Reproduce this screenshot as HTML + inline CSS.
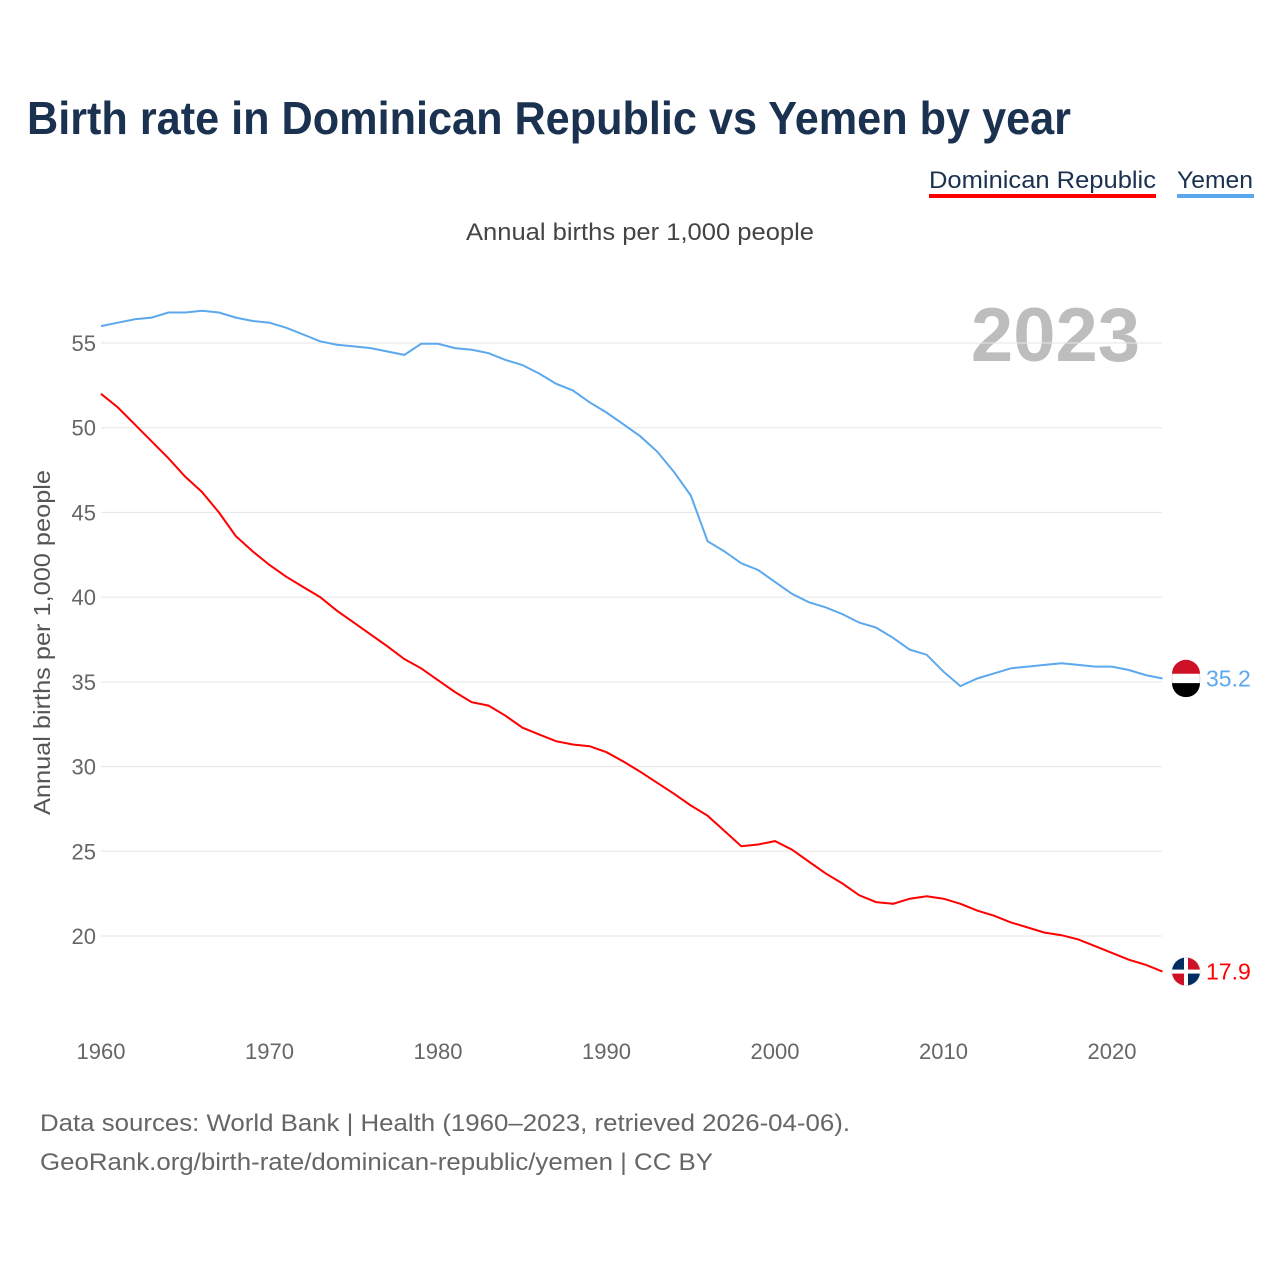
<!DOCTYPE html>
<html><head><meta charset="utf-8">
<style>
body{margin:0;background:#fff;font-family:"Liberation Sans",sans-serif;}
svg{display:block}
</style></head>
<body>
<svg id="chart" width="1280" height="1280" viewBox="0 0 1280 1280">
<text x="27" y="134" font-size="46" font-weight="bold" fill="#1a3150" textLength="1044" lengthAdjust="spacingAndGlyphs">Birth rate in Dominican Republic vs Yemen by year</text>
<g>
<text x="929" y="188" font-size="24" fill="#1a3150" textLength="227" lengthAdjust="spacingAndGlyphs">Dominican Republic</text>
<rect x="929" y="194" width="227" height="4" fill="#ff0000"/></g>
<g>
<text x="1177" y="188" font-size="24" fill="#1a3150" textLength="76" lengthAdjust="spacingAndGlyphs">Yemen</text>
<rect x="1177" y="194" width="77" height="4" fill="#5ba8ee"/></g>
<text x="466" y="240" font-size="24" fill="#444" textLength="348" lengthAdjust="spacingAndGlyphs">Annual births per 1,000 people</text>
<text x="1140" y="361" font-size="76" font-weight="bold" fill="#bdbdbd" text-anchor="end">2023</text>
<text transform="translate(50,815) rotate(-90)" font-size="23" fill="#555" textLength="345" lengthAdjust="spacingAndGlyphs">Annual births per 1,000 people</text>
<g id="grid"></g><g id="xt"></g><g id="lines"></g>
<text x="40" y="1131" font-size="24" fill="#666" textLength="810" lengthAdjust="spacingAndGlyphs">Data sources: World Bank | Health (1960–2023, retrieved 2026-04-06).</text>
<text x="40" y="1170" font-size="24" fill="#666" textLength="673" lengthAdjust="spacingAndGlyphs">GeoRank.org/birth-rate/dominican-republic/yemen | CC BY</text>
</svg>
<script>
const years=[];for(let y=1960;y<=2023;y++)years.push(y);
const yemen=[56.0,56.2,56.4,56.5,56.8,56.8,56.9,56.8,56.5,56.3,56.2,55.9,55.5,55.1,54.9,54.8,54.7,54.5,54.3,54.95,54.95,54.7,54.6,54.4,54.0,53.7,53.2,52.6,52.2,51.5,50.9,50.2,49.5,48.6,47.4,46.0,43.3,42.7,42.0,41.6,40.9,40.2,39.7,39.4,39.0,38.5,38.2,37.6,36.9,36.6,35.6,34.75,35.2,35.5,35.8,35.9,36.0,36.1,36.0,35.9,35.9,35.7,35.4,35.2];
const dominican=[52.0,51.2,50.2,49.2,48.2,47.1,46.2,45.0,43.6,42.7,41.9,41.2,40.6,40.0,39.2,38.5,37.8,37.1,36.35,35.8,35.1,34.4,33.8,33.6,33.0,32.3,31.9,31.5,31.3,31.2,30.85,30.3,29.7,29.05,28.4,27.7,27.1,26.2,25.3,25.4,25.6,25.1,24.4,23.7,23.1,22.4,22.0,21.9,22.2,22.35,22.2,21.9,21.5,21.2,20.8,20.5,20.2,20.05,19.8,19.4,19.0,18.6,18.3,17.9];
const yTicks=[20,25,30,35,40,45,50,55];
const xTicks=[1960,1970,1980,1990,2000,2010,2020];
const NS="http://www.w3.org/2000/svg";
const X=v=>101+(v-1960)*1011/60;
const Y=v=>936-(v-20)*593/35;
function el(t,a,p){const e=document.createElementNS(NS,t);for(const k in a)e.setAttribute(k,a[k]);p.appendChild(e);return e;}
const grid=document.getElementById('grid'),xt=document.getElementById('xt'),lines=document.getElementById('lines');
yTicks.forEach(v=>{
 const l=el('line',{x1:101,x2:1162,y1:Y(v),y2:Y(v),stroke:'#e6e6e6','stroke-width':1},grid);
 
 
 const t=el('text',{x:96,y:Y(v)+8,'font-size':22,fill:'#666','text-anchor':'end'},grid);t.textContent=v;
 
 
});
xTicks.forEach(v=>{
 const t=el('text',{x:X(v),y:1059,'font-size':22,fill:'#666','text-anchor':'middle'},xt);t.textContent=v;
 
 
});
function series(data,color,name){
 const p=el('path',{d:data.map((v,i)=>(i?'L':'M')+X(years[i]).toFixed(1)+','+Y(v).toFixed(1)).join(''),fill:'none',stroke:color,'stroke-width':2},lines);
 
 
 const last=data[data.length-1],ly=Y(last);
 const c=el('circle',{cx:1186,cy:ly,r:14,fill:'#fff',stroke:'#ddd'},lines);
 
 
 if(name==='yemen'){
  el('path',{d:`M1172,${ly-4.7}A14,14 0 0 1 1200,${ly-4.7}Z`,fill:'#ce1126'},lines);
  el('path',{d:`M1172,${ly+4.7}A14,14 0 0 0 1200,${ly+4.7}Z`,fill:'#000'},lines);
 }else{
  el('path',{d:`M1186,${ly}L1186,${ly-14}A14,14 0 0 0 1172,${ly}Z`,fill:'#002d62'},lines);
  el('path',{d:`M1186,${ly}L1200,${ly}A14,14 0 0 1 1186,${ly+14}Z`,fill:'#002d62'},lines);
  el('path',{d:`M1186,${ly}L1186,${ly-14}A14,14 0 0 1 1200,${ly}Z`,fill:'#ce1126'},lines);
  el('path',{d:`M1186,${ly}L1172,${ly}A14,14 0 0 0 1186,${ly+14}Z`,fill:'#ce1126'},lines);
  el('rect',{x:1184,y:ly-14,width:4,height:28,fill:'#fff'},lines);
  el('rect',{x:1172,y:ly-2,width:28,height:4,fill:'#fff'},lines);
 }
 const t=el('text',{x:1206,y:ly+8,'font-size':23,fill:color},lines);t.textContent=last.toFixed(1);
 
 
}
series(yemen,'#5ba8ee','yemen');
series(dominican,'#ff0000','dominican-republic');
</script>
</body></html>
